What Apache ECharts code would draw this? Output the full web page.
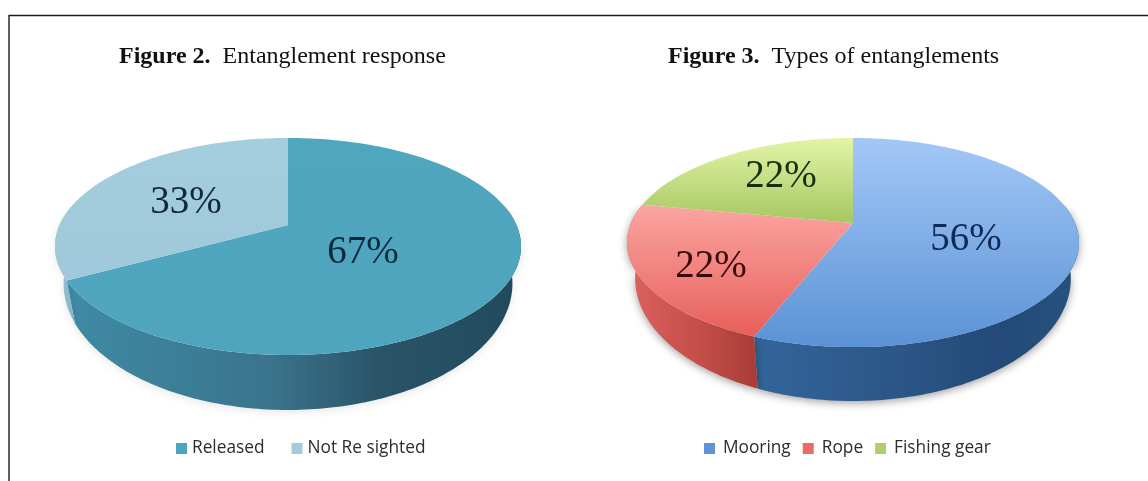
<!DOCTYPE html>
<html>
<head>
<meta charset="utf-8">
<style>html,body{margin:0;padding:0;background:#fff}#chart{width:1148px;height:481px}</style>
<script src="https://cdn.jsdelivr.net/npm/echarts@6/dist/echarts.min.js"></script>
</head>
<body>
<div id="chart"></div>
<script>
// Entanglement figures: two tilted, extruded pies on hidden value axes.
const responseNames = ['Released', 'Not Re sighted'];
const responseValues = [67, 33];
const typeNames = ['Mooring', 'Rope', 'Fishing gear'];
const typeValues = [56, 22, 22];

const SERIF = '"Liberation Serif","Times New Roman",serif';
const SANS = '"Open Sans","Noto Sans",sans-serif';

// Perspective disc: y = (a*v + b) / (1 + k*v), x = r*u / (1 + k*v), v pointing away from the viewer.
const pies = [
  {
    names: responseNames, values: responseValues,
    grid: { left: 55, top: 138, width: 466, height: 272 },
    xRange: [-233, 233], yRange: [138, 410],
    k: 0.198,
    face: { r: 228.4, a: -59.7, b: 225 },
    base: { r: 220, a: -70.4, b: 258.4 },
    legendColor: ['#4da4bd', '#a2cbdc'],
    faceStops: [['#4fa6bf', '#4fa5be'], ['#a4cddd', '#9fc9da']],
    sideStops: [
      [[0, '#3f8aa5'], [0.45, '#3a748c'], [0.68, '#2a5569'], [1, '#204a5c']],
      [[0, '#9cc4d4'], [1, '#7fb0c4']]
    ],
    labelAt: [[75, 253], [-102, 203]],
    labelColor: ['#0b2a3f', '#10283f'],
    shadow: 'rgba(0,0,0,0.10)'
  },
  {
    names: typeNames, values: typeValues,
    grid: { left: 627, top: 138, width: 452, height: 263 },
    xRange: [-226, 226], yRange: [138, 401],
    k: 0.187,
    face: { r: 222, a: -59.2, b: 223 },
    base: { r: 214, a: -70.5, b: 255.5 },
    legendColor: ['#5f95d6', '#ea6a66', '#b0cf6c'],
    faceStops: [['#a3c8f7', '#5b92d5'], ['#fba5a2', '#e75f5a'], ['#e3f4a6', '#a6c762']],
    sideStops: [
      [[0, '#33659a'], [0.5, '#2a5484'], [0.75, '#234a78'], [1, '#27527e']],
      [[0, '#dd625e'], [0.6, '#c24c47'], [1, '#a83c36']],
      [[0, '#b9d27a'], [1, '#a6c162']]
    ],
    labelAt: [[113, 240], [-142, 267], [-72, 177]],
    labelColor: ['#0e2a55', '#3a0a0a', '#143010'],
    shadow: 'rgba(0,0,0,0.38)'
  }
];

// Only the near part of the rim is ever visible.
const RIM_REACH = 1.75;

// Point on a disc at a clockwise angle measured from twelve o'clock.
function discPoint(pie, disc, angle) {
  const u = Math.sin(angle), v = Math.cos(angle);
  const w = 1 + pie.k * v;
  return [disc.r * u / w, (disc.a * v + disc.b) / w];
}

function sliceAngles(pie, index) {
  const total = pie.values.reduce((s, x) => s + x, 0);
  const before = pie.values.slice(0, index).reduce((s, x) => s + x, 0);
  return [before / total * 2 * Math.PI, (before + pie.values[index]) / total * 2 * Math.PI];
}

function arc(pie, disc, from, to, api) {
  const steps = Math.ceil((to - from) / (Math.PI / 180));
  const pts = [];
  for (let i = 0; i <= steps; i++) {
    pts.push(api.coord(discPoint(pie, disc, from + (to - from) * i / steps)));
  }
  return pts;
}

function renderSide(pie) {
  return function (params, api) {
    const span = sliceAngles(pie, params.dataIndex);
    const from = Math.max(span[0], Math.PI - RIM_REACH);
    const to = Math.min(span[1], Math.PI + RIM_REACH);
    if (from >= to) {
      return null;
    }
    const points = arc(pie, pie.face, from, to, api).concat(arc(pie, pie.base, from, to, api).reverse());
    return {
      type: 'polygon',
      shape: { points },
      style: {
        fill: new echarts.graphic.LinearGradient(0, 0, 1, 0,
          pie.sideStops[params.dataIndex].map(s => ({ offset: s[0], color: s[1] }))),
        shadowBlur: 9,
        shadowColor: pie.shadow,
        shadowOffsetY: 2
      }
    };
  };
}

function renderFace(pie, index) {
  return function (params, api) {
    const [from, to] = sliceAngles(pie, index);
    const centre = api.coord([0, pie.face.b]);
    const points = [centre].concat(arc(pie, pie.face, from, to, api));
    const at = api.coord(pie.labelAt[index]);
    const stops = pie.faceStops[index];
    return {
      type: 'group',
      children: [
        {
          type: 'polygon',
          shape: { points },
          style: {
            fill: new echarts.graphic.LinearGradient(0, 0, 0, 1, [
              { offset: 0, color: stops[0] }, { offset: 1, color: stops[1] }
            ])
          }
        },
        {
          type: 'text',
          z2: 10,
          style: {
            text: api.value(0) + '%',
            x: at[0], y: at[1],
            align: 'center', verticalAlign: 'middle',
            font: '39px ' + SERIF,
            fill: pie.labelColor[index]
          }
        }
      ]
    };
  };
}

const series = [];
pies.forEach((pie, p) => {
  series.push({
    type: 'custom', name: 'side' + p, z: 1, silent: true,
    xAxisIndex: p, yAxisIndex: p,
    data: pie.values.map(v => [v]),
    renderItem: renderSide(pie)
  });
  pie.names.forEach((name, i) => {
    series.push({
      type: 'custom', name, z: 2,
      xAxisIndex: p, yAxisIndex: p,
      itemStyle: { color: pie.legendColor[i] },
      data: [[pie.values[i]]],
      renderItem: renderFace(pie, i)
    });
  });
});

function caption(head, rest, left) {
  return {
    left, top: 40,
    text: '{b|' + head + '}{n|  ' + rest + '}',
    textStyle: {
      fontWeight: 'normal',
      rich: {
        b: { fontFamily: SERIF, fontSize: 24, fontWeight: 'bold', color: '#111' },
        n: { fontFamily: SERIF, fontSize: 24, fontWeight: 'normal', color: '#111' }
      }
    }
  };
}

const legendText = { fontFamily: SANS, fontSize: 17.3, color: '#2c2c2c' };

const option = {
  animation: false,
  backgroundColor: '#fff',
  title: [
    caption('Figure 2.', 'Entanglement response', 114),
    caption('Figure 3.', 'Types of entanglements', 663)
  ],
  grid: pies.map(p => Object.assign({ containLabel: false }, p.grid)),
  xAxis: pies.map((p, i) => ({ type: 'value', gridIndex: i, min: p.xRange[0], max: p.xRange[1], show: false })),
  yAxis: pies.map((p, i) => ({ type: 'value', gridIndex: i, min: p.yRange[0], max: p.yRange[1], inverse: true, show: false })),
  legend: [
    { data: responseNames, left: 171, top: 435, icon: 'rect', itemWidth: 11, itemHeight: 11, itemGap: 27, textStyle: legendText },
    {
      data: typeNames, left: 699, top: 435, icon: 'rect', itemWidth: 11, itemHeight: 11, itemGap: 12,
      textStyle: Object.assign({ padding: [0, 0, 0, 3] }, legendText)
    }
  ],
  graphic: [
    {
      type: 'polyline', silent: true, z: 0,
      shape: { points: [[9, 481], [9, 15.5], [1148, 15.5]] },
      style: { stroke: '#1c1c1c', lineWidth: 1.4, fill: null }
    }
  ],
  series
};

echarts.init(document.getElementById('chart'), null, { renderer: 'canvas' }).setOption(option);
</script>
</body>
</html>
